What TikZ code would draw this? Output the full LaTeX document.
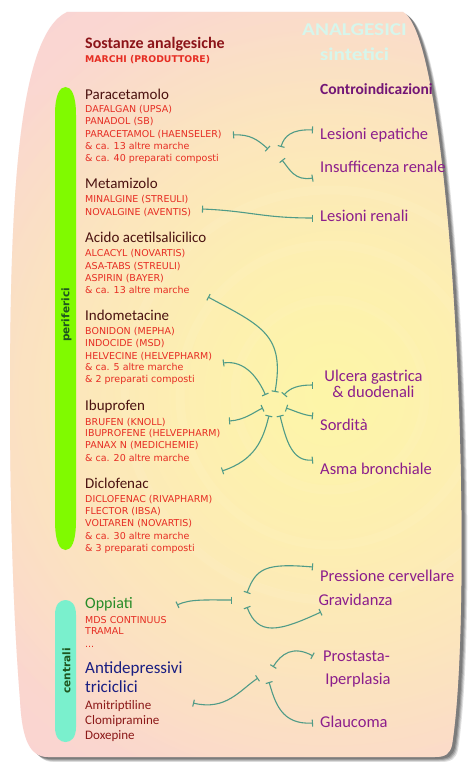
\documentclass[tikz,border=0pt]{standalone}
\usepackage{fontspec}
\usetikzlibrary{arrows.meta,fadings}
\setmainfont{DejaVu Sans}
\newfontfamily\comicf{Carlito}
\newfontfamily\brandf{DejaVu Sans}
\definecolor{pinkTop}{RGB}{249,208,218}
\definecolor{peachMid}{RGB}{251,220,205}
\definecolor{pinkBot}{RGB}{250,208,214}
\definecolor{glowY}{RGB}{254,246,168}
\definecolor{glowP}{RGB}{253,232,190}
\definecolor{brandred}{RGB}{230,45,35}
\definecolor{titledark}{RGB}{75,18,16}
\definecolor{headred}{RGB}{140,20,25}
\definecolor{purp}{RGB}{140,30,140}
\definecolor{purpdark}{RGB}{115,22,118}
\definecolor{palemint}{RGB}{214,246,236}
\definecolor{connc}{RGB}{80,155,135}
\definecolor{barlime}{RGB}{128,250,0}
\definecolor{baraqua}{RGB}{122,240,205}
\definecolor{labgreen}{RGB}{30,85,30}
\definecolor{opgreen}{RGB}{40,140,40}
\definecolor{navy}{RGB}{25,30,130}
\definecolor{darkred}{RGB}{140,25,25}
\tikzfading[name=glowfade, inner color=transparent!0, outer color=transparent!100]
\tikzset{
  brand/.style={anchor=base west, inner sep=0pt, text=brandred, font={\brandf\fontsize{9.5}{11}\selectfont}},
  drug/.style={anchor=base west, inner sep=0pt, text=titledark, font={\comicf\fontsize{15}{18}\selectfont}},
  effect/.style={anchor=base west, inner sep=0pt, text=purp, font={\comicf\fontsize{16.5}{19}\selectfont}},
  effectc/.style={effect, anchor=base},
  small/.style={anchor=base west, inner sep=0pt, text=darkred, font={\comicf\fontsize{13}{15}\selectfont}},
  pale/.style={anchor=base, inner sep=0pt, text=palemint, font={\comicf\bfseries\fontsize{18}{20}\selectfont}},
  sidelab/.style={rotate=90, inner sep=0pt, text=labgreen, font={\brandf\bfseries\fontsize{10.5}{12}\selectfont}},
  conn/.style={draw=connc, line width=1.1pt, arrows={Bar[width=7pt,line width=1.1pt]-Bar[width=7pt,line width=1.1pt]}}
}
\begin{document}
\begin{tikzpicture}[x=1pt,y=-1pt]
\useasboundingbox (0,0) rectangle (472,762);
\fill[white] (0,0) rectangle (472,762);
\def\shapepath{(67,12) -- (403,12) .. controls (455,40) and (475,600) .. (452,745)
  .. controls (450,754) and (445,757) .. (435,757) -- (48,757)
  .. controls (30,757) and (22,740) .. (20,700)
  .. controls (12,600) and (10,480) .. (10,400)
  .. controls (10,200) and (18,35) .. (67,12) -- cycle}
% shadow
\foreach \dx/\dy/\op in {6/5/0.12, 5/4/0.15, 4/3/0.18, 3/2/0.2}{
  \fill[black, opacity=\op, shift={(\dx,\dy)}] \shapepath;
}
% body
\begin{scope}
  \clip \shapepath;
  \shade[top color=pinkTop, middle color=peachMid, bottom color=pinkBot] (0,0) rectangle (472,762);
  \fill[glowP, path fading=glowfade] (340,380) circle (600);
  \fill[glowY, path fading=glowfade] (330,395) circle (420);
  \foreach \r in {95,150,205}{
    \draw[white, opacity=0.06, line width=9pt] (330,395) circle (\r);
  }
\end{scope}

% side bars
\fill[barlime] (55,115) -- (55,520) .. controls (55,543) and (60,550) .. (65.5,550)
  .. controls (71,550) and (76,543) .. (76,520) -- (76,115)
  .. controls (76,94) and (71,87) .. (65.5,87) .. controls (60,87) and (55,94) .. (55,115) -- cycle;
\fill[baraqua] (55,615) -- (55,727) .. controls (55,738) and (60,742) .. (65.5,742)
  .. controls (71,742) and (76,738) .. (76,727) -- (76,615)
  .. controls (76,604) and (71,600) .. (65.5,600) .. controls (60,600) and (55,604) .. (55,615) -- cycle;
\node[sidelab] (perif) at (66.5,315) {periferici};
\node[sidelab] (centr) at (66.5,671) {centrali};

% header
\node[pale] (an1) at (354.5,36) {\scalebox{1.18}[1]{ANALGESICI}};
\node[pale] (an2) at (354.5,61) {\scalebox{1.18}[1]{sintetici}};
\node[drug, text=headred, font={\comicf\bfseries\fontsize{16}{18}\selectfont}] (sost) at (85,48.3) {Sostanze analgesiche};
\node[brand, font={\brandf\bfseries\fontsize{9.3}{11}\selectfont}] (marchi) at (85,62.7) {MARCHI (PRODUTTORE)};
\node[effect, text=purpdark, font={\comicf\bfseries\fontsize{15.5}{18}\selectfont}] (contro) at (320,95) {Controindicazioni};

% drugs
\node[drug] (para) at (85,99.3) {Paracetamolo};
\node[brand] (b11) at (85,112.7) {DAFALGAN (UPSA)};
\node[brand] (b12) at (85,125) {PANADOL (SB)};
\node[brand] (b13) at (85,137.3) {PARACETAMOL (HAENSELER)};
\node[brand] (b14) at (85,149.5) {\& ca. 13 altre marche};
\node[brand] (b15) at (85,161.7) {\& ca. 40 preparati composti};

\node[drug] (meta) at (85,189) {Metamizolo};
\node[brand] (b21) at (85,202.7) {MINALGINE (STREULI)};
\node[brand] (b22) at (85,215) {NOVALGINE (AVENTIS)};

\node[drug] (acido) at (85,242.7) {Acido acetilsalicilico};
\node[brand] (b31) at (85,256.7) {ALCACYL (NOVARTIS)};
\node[brand] (b32) at (85,269) {ASA-TABS (STREULI)};
\node[brand] (b33) at (85,281) {ASPIRIN (BAYER)};
\node[brand] (b34) at (85,293.3) {\& ca. 13 altre marche};

\node[drug] (indo) at (85,320) {Indometacine};
\node[brand] (b41) at (85,334.3) {BONIDON (MEPHA)};
\node[brand] (b42) at (85,346.7) {INDOCIDE (MSD)};
\node[brand] (b43) at (85,359) {HELVECINE (HELVEPHARM)};
\node[brand] (b44) at (85,370.9) {\& ca. 5 altre marche};
\node[brand] (b45) at (85,382.9) {\& 2 preparati composti};

\node[drug] (ibu) at (85,410.7) {Ibuprofen};
\node[brand] (b51) at (85,425) {BRUFEN (KNOLL)};
\node[brand] (b52) at (85,436.9) {IBUPROFENE (HELVEPHARM)};
\node[brand] (b53) at (85,448.6) {PANAX N (MEDICHEMIE)};
\node[brand] (b54) at (85,461) {\& ca. 20 altre marche};

\node[drug] (diclo) at (85,488.3) {Diclofenac};
\node[brand] (b61) at (85,502.3) {DICLOFENAC (RIVAPHARM)};
\node[brand] (b62) at (85,514.3) {FLECTOR (IBSA)};
\node[brand] (b63) at (85,526.7) {VOLTAREN (NOVARTIS)};
\node[brand] (b64) at (85,539) {\& ca. 30 altre marche};
\node[brand] (b65) at (85,551.2) {\& 3 preparati composti};

\node[drug, text=opgreen, font={\comicf\fontsize{16}{18}\selectfont}] (oppi) at (85,608.3) {Oppiati};
\node[brand] (b71) at (85,623.3) {MDS CONTINUUS};
\node[brand] (b72) at (85,634.5) {TRAMAL};
\node[brand] (b73) at (85,647.3) {...};

\node[drug, text=navy, font={\comicf\fontsize{17}{19}\selectfont}] (anti) at (85,673.3) {Antidepressivi};
\node[drug, text=navy, font={\comicf\fontsize{17}{19}\selectfont}] (tric) at (85,692.3) {triciclici};
\node[small] (s1) at (85,709) {Amitriptiline};
\node[small] (s2) at (85,724.3) {Clomipramine};
\node[small] (s3) at (85,739) {Doxepine};

% effects
\node[effect] (lesep) at (320,139.3) {Lesioni epatiche};
\node[effect] (insuf) at (320,172.7) {Insufficenza renale};
\node[effect] (lesren) at (320,221) {Lesioni renali};
\node[effectc] (ulc1) at (373.5,381) {Ulcera gastrica};
\node[effectc] (ulc2) at (373.5,397.5) {\& duodenali};
\node[effect] (sord) at (320,430) {Sordità};
\node[effect] (asma) at (320,474) {Asma bronchiale};
\node[effect] (press) at (320,581.7) {Pressione cervellare};
\node[effect] (grav) at (318.3,605.7) {Gravidanza};
\node[effectc] (pro1) at (356.5,661) {Prostasta-};
\node[effectc] (pro2) at (358,684.3) {Iperplasia};
\node[effect] (glau) at (320,727.7) {Glaucoma};

% connector end points
\coordinate (cP) at (233,135);   \coordinate (jP) at (268,149);
\coordinate (jPa) at (281,147);  \coordinate (eLE) at (313,130);
\coordinate (jPb) at (282,160);  \coordinate (eIR) at (313,178);
\coordinate (cM) at (202,209);   \coordinate (eLR) at (313,218);
\coordinate (cA) at (208,297);   \coordinate (jA) at (275,392);
\coordinate (cI) at (223,363);   \coordinate (jI) at (265.5,395);
\coordinate (cB) at (229,421);   \coordinate (jB) at (263,408);
\coordinate (cD) at (222,471);   \coordinate (jD) at (269,415.5);
\coordinate (jU) at (284,395);   \coordinate (eU) at (313,385);
\coordinate (jS) at (286,408);   \coordinate (eS) at (313,416);
\coordinate (jAs) at (280,415.5); \coordinate (eAs) at (313,460);
\coordinate (cO) at (177,605);   \coordinate (jO) at (232,600);
\coordinate (jOa) at (247,593);  \coordinate (ePr) at (313,567);
\coordinate (jOb) at (247,607);  \coordinate (eGr) at (321,612);
\coordinate (cT) at (193,703);   \coordinate (jT) at (258,678);
\coordinate (jTa) at (273,667);  \coordinate (ePI) at (313,656);
\coordinate (jTb) at (269,682);  \coordinate (eGl) at (313,723);

% connectors
\draw[conn] (cP) .. controls (250,134) and (258,140) .. (jP);
\draw[conn] (jPa) .. controls (284,136) and (292,129) .. (eLE);
\draw[conn] (jPb) .. controls (290,170) and (295,181) .. (eIR);
\draw[conn] (cM) .. controls (250,211) and (262,218) .. (eLR);
\draw[conn] (cA) .. controls (262,326) and (285,335) .. (jA);
\draw[conn] (cI) .. controls (245,360) and (258,378) .. (jI);
\draw[conn] (cB) .. controls (245,420) and (254,412) .. (jB);
\draw[conn] (cD) .. controls (255,460) and (263,440) .. (jD);
\draw[conn] (jU) .. controls (290,388) and (298,385) .. (eU);
\draw[conn] (jS) .. controls (295,411) and (303,415) .. (eS);
\draw[conn] (jAs) .. controls (286,440) and (292,462) .. (eAs);
\draw[conn] (cO) .. controls (190,599) and (205,600) .. (jO);
\draw[conn] (jOa) .. controls (256,568) and (266,563) .. (ePr);
\draw[conn] (jOb) .. controls (258,636) and (278,632) .. (eGr);
\draw[conn] (cT) .. controls (226,711) and (240,690) .. (jT);
\draw[conn] (jTa) .. controls (281,654) and (293,645) .. (ePI);
\draw[conn] (jTb) .. controls (275,702) and (281,725) .. (eGl);
\end{tikzpicture}
\end{document}
